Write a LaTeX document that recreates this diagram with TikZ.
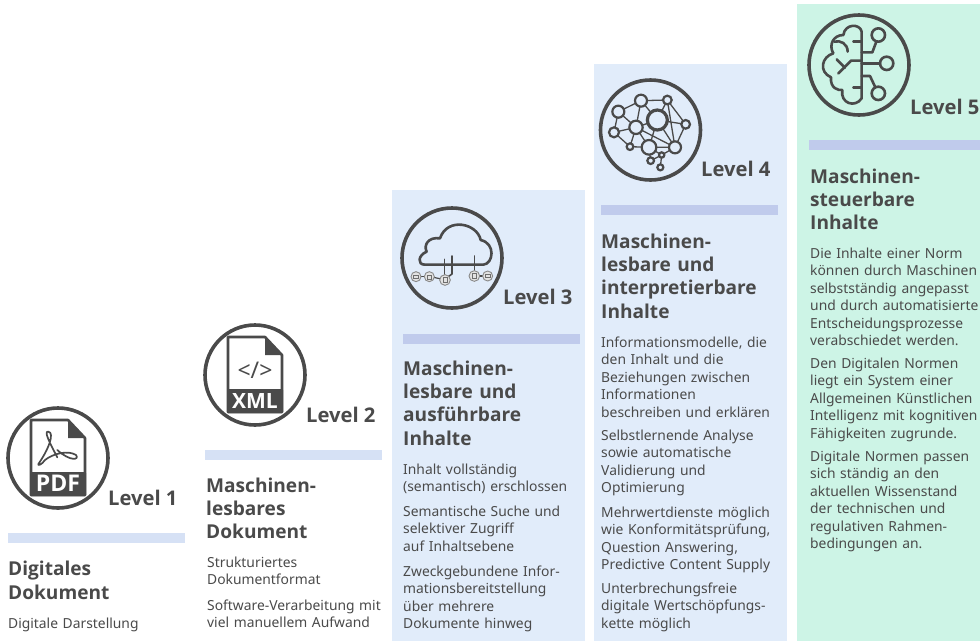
\documentclass[tikz,border=0pt]{standalone}
\usepackage{fontspec}
\setmainfont{Noto Sans}
\newfontfamily\headfont{Open Sans}
\definecolor{ink}{HTML}{4A4A4A}
\definecolor{panelblue}{HTML}{E1ECFA}
\definecolor{panelgreen}{HTML}{CDF4E6}
\definecolor{barlight}{HTML}{D6E1F5}
\definecolor{bardark}{HTML}{C0CBEC}
\definecolor{chip}{HTML}{E2E2E2}
\tikzset{
  x=1pt,y=-1pt,
  bodytext/.style={anchor=north west,inner sep=0pt,text=ink,text width=#1,align=left,yshift=12.25pt,
    font=\fontsize{13.85}{17.5}\selectfont,execute at begin node=\strut},
  bodytext/.default=180pt,
  headtext/.style={anchor=north west,inner sep=0pt,text=ink,text width=180pt,align=left,yshift=16.31pt,
    font=\headfont\fontsize{19.1}{23.3}\selectfont\bfseries,execute at begin node=\strut},
  leveltext/.style={anchor=base west,inner sep=0pt,text=ink,font=\headfont\fontsize{20.2}{24}\selectfont\bfseries},
  ring/.style={draw=ink,line width=3.6pt},
  iconline/.style={draw=ink,line width=#1,line cap=round,line join=round},
  iconline/.default=2pt,
  filetext/.style={inner sep=0pt,text=white,font=\headfont\fontsize{#1}{24}\selectfont\bfseries},
  chipdot/.style={draw=ink!65,fill=chip,line width=0.9pt},
  netnode/.style={draw=ink,line width=2.2pt},
}
\newcommand{\fileicon}[2]{%
  \begin{scope}[shift={(#1,#2)}]
    \draw[iconline=2.6pt] (-27,37) -- (-27,-38) -- (10,-38) -- (27,-20) -- (27,37) -- cycle;
    \fill[ink] (10,-38) -- (27,-20) -- (10,-20) -- cycle;
    \fill[ink,rounded corners=1pt] (-28,14) rectangle (28,38);
  \end{scope}}
\begin{document}
\begin{tikzpicture}
\useasboundingbox (0,0) rectangle (980,641);
\fill[white] (0,0) rectangle (980,641);
% panels
\fill[panelblue] (392,190) rectangle (585,641);
\fill[panelblue] (594,64) rectangle (787,641);
\fill[panelgreen] (797,4) rectangle (980,641);
% bars
\fill[barlight] (8,533) rectangle (185,543);
\fill[barlight] (205,450) rectangle (382,460);
\fill[bardark] (403,334) rectangle (580,344);
\fill[bardark] (601,205) rectangle (778,215);
\fill[bardark] (809,140) rectangle (980,150);
% rings
\draw[ring] (58,458) circle (50);
\draw[ring] (255,375) circle (50);
\draw[ring] (452,258) circle (50);
\draw[ring] (650.5,130) circle (50);
\draw[ring] (859,65) circle (50);
% PDF icon
\fileicon{58}{458}
\node[filetext=23] (pdf) at (58,483.5) {PDF};
\begin{scope}[shift={(0,310)},scale=1/3]
  \draw[iconline=1.7pt] (172,442) .. controls (150,400) and (130,362) .. (145,365)
     .. controls (165,368) and (145,420) .. (115,462)
     .. controls (112,468) and (125,465) .. (135,450)
     .. controls (160,430) and (205,420) .. (228,435)
     .. controls (240,450) and (210,455) .. (172,420);
\end{scope}
% XML icon
\fileicon{255}{375}
\node[filetext=21] (xml) at (255,400.5) {XML};
\node[inner sep=0pt,text=ink,font=\fontsize{23}{24}\selectfont] (tag) at (255,370) {</>};
% Cloud icon
\begin{scope}[shift={(390,190)},scale=1/3]
  \draw[iconline=2.6pt] (105,224) -- (280,224)
     .. controls (310,222) and (318,160) .. (272,150)
     .. controls (262,100) and (172,80) .. (150,145)
     .. controls (115,140) and (100,165) .. (110,185)
     .. controls (85,195) and (80,224) .. (105,224);
  \draw[iconline=1.6pt] (163,208) -- (163,258);
  \draw[iconline=1.6pt] (186,198) -- (186,252) -- (175,260);
  \draw[iconline=1.6pt] (253,198) -- (253,245);
  \draw[iconline=1.2pt] (90,260) -- (105,260);
  \draw[iconline=1.2pt] (130,262) -- (150,266);
  \draw[iconline=1.2pt] (265,258) -- (280,258);
  \draw[chipdot] (78,260) circle (15);
  \draw[chipdot] (118,260) circle (15);
  \draw[chipdot] (165,270) circle (16);
  \draw[chipdot] (253,258) circle (16);
  \draw[chipdot] (293,258) circle (15);
  \draw[ink!80,line width=.5pt] (70,255) rectangle (86,265);
  \draw[ink!80,line width=.5pt] (112,255) rectangle (124,267);
  \draw[ink!80,line width=.5pt] (159,262) rectangle (171,278);
  \draw[ink!80,line width=.5pt] (246,250) rectangle (260,266);
  \draw[ink!80,line width=.5pt] (285,253) rectangle (301,263);
\end{scope}
% Network icon
\begin{scope}[shift={(590,60)},scale=1/3]
  \draw[iconline=1.3pt] (85,155) -- (153,122) -- (232,120) -- (287,193) -- (255,262) -- (177,262) -- (120,260) -- (72,217) -- (85,155);
  \draw[iconline=1.3pt] (85,155) -- (138,202) -- (153,122) -- (202,180) -- (232,120) -- (255,262) -- (202,180) -- (287,193);
  \draw[iconline=1.3pt] (72,217) -- (138,202) -- (202,180);
  \draw[iconline=1.3pt] (138,202) -- (120,260);
  \draw[iconline=1.3pt] (138,202) -- (177,262);
  \draw[iconline=1.3pt] (138,202) -- (255,262);
  \draw[iconline=1.3pt] (177,262) -- (202,180);
  \draw[iconline=1.3pt] (177,262) -- (215,285) -- (211,322);
  \draw[iconline=1.3pt] (182,302) -- (177,262);
  \draw[iconline=1.3pt] (182,302) -- (215,285) -- (255,262);
  \foreach \px/\py/\pr in {85/155/18,153/122/18,232/120/13,287/193/13,138/202/20,72/217/15,120/260/10,177/262/22,255/262/18,215/285/8,182/302/10,211/322/9}
    \draw[netnode,fill=panelblue] (\px,\py) circle (\pr);
  \draw[draw=ink,line width=3.2pt,fill=panelblue] (202,180) circle (30);
\end{scope}
% Brain icon
\begin{scope}[shift={(795,0)},scale=1/3]
  \draw[iconline=2.6pt] (200,95) .. controls (195,70) and (150,70) .. (145,105)
     .. controls (115,105) and (100,135) .. (115,160)
     .. controls (80,170) and (70,215) .. (108,232)
     .. controls (105,265) and (130,272) .. (142,270)
     .. controls (135,310) and (180,325) .. (200,295) -- (200,95);
  \draw[iconline=2.6pt] (200,125) -- (175,125);
  \draw[iconline=2.6pt] (118,125) .. controls (135,120) and (158,130) .. (158,155);
  \draw[iconline=2.6pt] (200,262) -- (175,262);
  \draw[iconline=2.6pt] (200,182) -- (168,182) -- (130,220);
  \draw[iconline=2.6pt] (125,178) -- (150,203);
  \draw[iconline=2.6pt] (200,157) -- (232,157) -- (244,125);
  \draw[iconline=2.6pt] (200,190) -- (255,190);
  \draw[iconline=2.6pt] (200,228) -- (225,228) -- (240,260);
  \draw[iconline=2.6pt] (250,105) circle (20);
  \draw[iconline=2.6pt] (275,190) circle (20);
  \draw[iconline=2.6pt] (250,280) circle (20);
\end{scope}
% level labels
\node[leveltext] (l1) at (108,505) {Level 1};
\node[leveltext] (l2) at (306,422) {Level 2};
\node[leveltext] (l3) at (503,304) {Level 3};
\node[leveltext] (l4) at (701,176) {Level 4};
\node[leveltext] (l5) at (910,114) {Level 5};
% column 1
\node[headtext] (h1) at (8,575.6) {Digitales\\Dokument};
\node[bodytext] (b11) at (8,628) {Digitale Darstellung};
% column 2
\node[headtext] (h2) at (206,492) {Maschinen-\\lesbares\\Dokument};
\node[bodytext] (b21) at (207,567) {Strukturiertes\\Dokumentformat};
\node[bodytext] (b22) at (207,610) {Software-Verarbeitung mit\\viel manuellem Aufwand};
% column 3
\node[headtext] (h3) at (403,375) {Maschinen-\\lesbare und\\ausführbare\\Inhalte};
\node[bodytext] (b31) at (403,474) {Inhalt vollständig\\(semantisch) erschlossen};
\node[bodytext] (b32) at (403,516) {Semantische Suche und\\selektiver Zugriff\\auf Inhaltsebene};
\node[bodytext] (b33) at (403,576) {Zweckgebundene Infor-\\mationsbereitstellung\\über mehrere\\Dokumente hinweg};
% column 4
\node[headtext] (h4) at (601,248) {Maschinen-\\lesbare und\\interpretierbare\\Inhalte};
\node[bodytext] (b41) at (601,347) {Informationsmodelle, die\\den Inhalt und die\\Beziehungen zwischen\\Informationen\\beschreiben und erklären};
\node[bodytext] (b42) at (601,440) {Selbstlernende Analyse\\sowie automatische\\Validierung und\\Optimierung};
\node[bodytext] (b43) at (601,517) {Mehrwertdienste möglich\\wie Konformitätsprüfung,\\Question Answering,\\Predictive Content Supply};
\node[bodytext] (b44) at (601,593) {Unterbrechungsfreie\\digitale Wertschöpfungs-\\kette möglich};
% column 5
\node[headtext] (h5) at (810,183) {Maschinen-\\steuerbare\\Inhalte};
\node[bodytext] (b51) at (810,258) {Die Inhalte einer Norm\\können durch Maschinen\\selbstständig angepasst\\und durch automatisierte\\Entscheidungsprozesse\\verabschiedet werden.};
\node[bodytext] (b52) at (810,368) {Den Digitalen Normen\\liegt ein System einer\\Allgemeinen Künstlichen\\Intelligenz mit kognitiven\\Fähigkeiten zugrunde.};
\node[bodytext] (b53) at (810,461) {Digitale Normen passen\\sich ständig an den\\aktuellen Wissenstand\\der technischen und\\regulativen Rahmen-\\bedingungen an.};
\end{tikzpicture}
\end{document}
